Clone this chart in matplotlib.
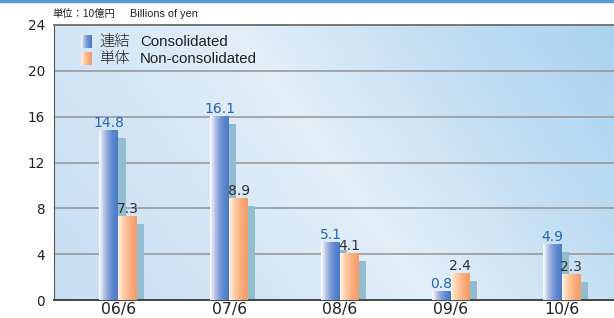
import matplotlib
matplotlib.use('Agg')
import matplotlib.pyplot as plt
import numpy as np
from matplotlib.colors import LinearSegmentedColormap

plt.rcParams['font.family'] = ['DejaVu Sans', 'Noto Sans CJK JP']

# データ
periods = ['06/6', '07/6', '08/6', '09/6', '10/6']
consolidated = [14.8, 16.1, 5.1, 0.8, 4.9]
non_consolidated = [7.3, 8.9, 4.1, 2.4, 2.3]
series_jp = ['連結', '単体']
series_en = ['Consolidated', 'Non-consolidated']
unit_jp = '単位：10億円'
unit_en = 'Billions of yen'

blue_cmap = LinearSegmentedColormap.from_list(
    'b', ['#ffffff', '#b9c6e6', '#7f9fd6', '#5a86cc', '#4a7bc6'])
orange_cmap = LinearSegmentedColormap.from_list(
    'o', ['#fff3e6', '#fcc9a0', '#f9ad7e', '#f59b66'])
shadow_color = '#92bccf'

fig = plt.figure(figsize=(6.14, 3.18), dpi=100)
ax = fig.add_axes([54 / 614, 18 / 318, 560 / 614, 275 / 318])

# 背景グラデーション
gx = np.linspace(0, 1, 200)
gy = np.linspace(0, 1, 100)
GX, GY = np.meshgrid(gx, gy)
t = GX + 0.35 * GY
bg_cmap = LinearSegmentedColormap.from_list(
    'bg', ['#c6def3', '#d2e5f6', '#e3eff9', '#c3def3', '#a9d3ef'])
ax.imshow(t, extent=[0, 1, 0, 1], transform=ax.transAxes, cmap=bg_cmap,
          aspect='auto', origin='lower', zorder=0)

x = np.arange(len(periods))
w = 0.17
sh_dx = 0.065
sh_dy = 0.7

for yv in range(4, 24, 4):
    ax.axhline(yv, color='#9a9a9a', lw=1.2, zorder=1)

# 影
cons_sh = [max(v - sh_dy, 0) for v in consolidated]
non_sh = [max(v - sh_dy, 0) for v in non_consolidated]
ax.bar(x - w / 2 + sh_dx, cons_sh, w, color=shadow_color, zorder=2)
ax.bar(x + w / 2 + sh_dx, non_sh, w, color=shadow_color, zorder=2)

grad = np.linspace(0, 1, 64).reshape(1, -1)


def gradient_bars(xs, vals, cmap, z):
    bars = ax.bar(xs, vals, w, color='none', zorder=z)
    for b in bars:
        x0 = b.get_x()
        im = ax.imshow(grad, extent=[x0, x0 + b.get_width(), 0, b.get_height()],
                       cmap=cmap, aspect='auto', zorder=z)
        im.set_clip_path(b)
    return bars


b1 = gradient_bars(x - w / 2, consolidated, blue_cmap, 3)
b2 = gradient_bars(x + w / 2, non_consolidated, orange_cmap, 4)
ax.set_xlim(-0.58, 4.47)
ax.set_ylim(0, 24)

for b, v in zip(b1, consolidated):
    ax.annotate(f'{v}', xy=(b.get_x() + b.get_width() / 2, v), xytext=(0, 0),
                textcoords='offset points', ha='center', va='bottom',
                fontsize=10, color='#2166b3', zorder=6)
for b, v in zip(b2, non_consolidated):
    ax.annotate(f'{v}', xy=(b.get_x() + b.get_width() / 2, v), xytext=(0, 0),
                textcoords='offset points', ha='center', va='bottom',
                fontsize=10, color='#333333', zorder=6)

ax.set_xticks(x)
ax.set_xticklabels(periods, fontsize=11.3, color='#222222')
ax.set_yticks(range(0, 25, 4))
ax.set_yticklabels([str(v) for v in range(0, 25, 4)], fontsize=9.8, color='#222222')
ax.tick_params(length=0)
ax.tick_params(axis='x', pad=1.5)
ax.tick_params(axis='y', pad=6.5)

ax.spines['right'].set_visible(False)
ax.spines['left'].set_color('#555555')
ax.spines['bottom'].set_color('#444444')
ax.spines['bottom'].set_linewidth(1.4)
ax.spines['top'].set_color('#777777')
ax.spines['top'].set_linewidth(1.4)

# 凡例
for i, (jp, en, cmap) in enumerate(zip(series_jp, series_en, [blue_cmap, orange_cmap])):
    yc = 0.94 - i * 0.064
    x0 = 27 / 560
    ax.imshow(grad, extent=[x0, x0 + 11 / 560, yc - 0.022, yc + 0.022],
              transform=ax.transAxes, cmap=cmap, aspect='auto', zorder=7)
    ax.text(45 / 560, yc, jp, transform=ax.transAxes, fontsize=11,
            va='center', ha='left', color='#222222', zorder=7,
            family='Noto Sans CJK JP', weight='light')
    ax.text(86 / 560, yc, en, transform=ax.transAxes, fontsize=10.8,
            va='center', ha='left', color='#222222', zorder=7,
            family='Liberation Sans')

fig.text(52 / 614, 1 - 14 / 318, unit_jp, fontsize=7.4, va='center', ha='left',
         color='#222222', family='Noto Sans CJK JP')
fig.text(130 / 614, 1 - 14 / 318, unit_en, fontsize=7.8, va='center', ha='left',
         color='#222222', family='Liberation Sans')

# 上部の青線
fig.add_artist(plt.Line2D([0, 1], [1 - 1 / 318, 1 - 1 / 318], color='#5b9bd5',
                          lw=2.5, transform=fig.transFigure))

fig.savefig('out.png', dpi=100)
